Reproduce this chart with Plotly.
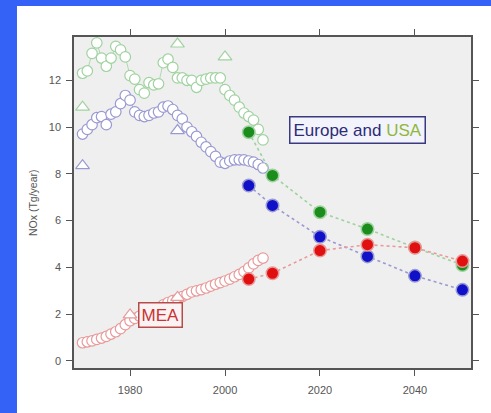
import plotly.graph_objects as go

# ---- historical emissions (open circles), Tg/year ----
years_hist = list(range(1970, 2009))

eu_usa_hist = [12.3, 12.4, 13.15, 13.6, 12.95, 12.6, 12.95, 13.45, 13.3, 13.0,
               12.2, 12.05, 11.6, 11.45, 11.9, 11.8, 11.85, 12.75, 12.9, 12.55,
               12.1, 12.1, 12.0, 12.0, 11.7, 12.0, 12.05, 12.1, 12.1, 12.1,
               11.6, 11.35, 11.15, 10.85, 10.6, 10.45, 10.3, 9.9, 9.45]

europe_hist = [9.7, 9.9, 10.1, 10.4, 10.45, 10.1, 10.55, 10.65, 11.0, 11.35,
               11.15, 10.65, 10.5, 10.45, 10.5, 10.6, 10.65, 10.85, 10.9, 10.75,
               10.5, 10.35, 10.0, 9.8, 9.6, 9.35, 9.15, 8.95, 8.75, 8.5,
               8.45, 8.55, 8.6, 8.6, 8.6, 8.55, 8.5, 8.4, 8.25]

mea_hist = [0.78, 0.82, 0.86, 0.92, 0.98, 1.05, 1.15, 1.25, 1.38, 1.55,
            1.72, 1.82, 1.92, 2.0, 2.08, 2.18, 2.28, 2.4, 2.5, 2.58,
            2.65, 2.75, 2.85, 2.95, 3.0, 3.05, 3.12, 3.2, 3.28, 3.35,
            3.42, 3.5, 3.6, 3.7, 3.82, 3.98, 4.15, 4.3, 4.4]

# ---- other inventories (open triangles) ----
tri_eu_usa_years = [1970, 1990, 2000]
tri_eu_usa_vals = [10.85, 13.55, 13.0]
tri_europe_years = [1970, 1990]
tri_europe_vals = [8.35, 9.85]
tri_mea_years = [1980, 1990]
tri_mea_vals = [1.97, 2.72]

# ---- projections (filled circles) ----
years_proj = [2005, 2010, 2020, 2030, 2040, 2050]
eu_usa_proj = [9.78, 7.93, 6.36, 5.64, 4.85, 4.1]
europe_proj = [7.5, 6.65, 5.31, 4.47, 3.64, 3.04]
mea_proj = [3.5, 3.75, 4.72, 4.97, 4.84, 4.27]

x_ticks = [1980, 2000, 2020, 2040]
y_ticks = [0, 2, 4, 6, 8, 10, 12]

GREEN, GREEN_L = "#1c8c1c", "#9fd29f"
BLUE, BLUE_L = "#1010c8", "#9a9ad2"
RED, RED_L = "#e01010", "#e89a9a"

FONT = "Arial, Liberation Sans"

fig = go.Figure()

def hist_trace(x, y, col):
    return go.Scatter(x=x, y=y, mode="lines+markers",
                      line=dict(color=col, width=0.8),
                      marker=dict(symbol="circle", size=10.5, color="white",
                                  line=dict(color=col, width=1.2)),
                      showlegend=False, hoverinfo="skip")

def tri_trace(x, y, col):
    return go.Scatter(x=x, y=y, mode="markers",
                      marker=dict(symbol="triangle-up", size=12, color="white",
                                  line=dict(color=col, width=1.2)),
                      showlegend=False, hoverinfo="skip")

def proj_trace(x, y, col, col_l):
    return go.Scatter(x=x, y=y, mode="lines+markers",
                      line=dict(color=col_l, width=1.6, dash="dot"),
                      marker=dict(symbol="circle", size=12.5, color=col,
                                  line=dict(color=col_l, width=1.5)),
                      showlegend=False, hoverinfo="skip")

fig.add_trace(hist_trace(years_hist, eu_usa_hist, GREEN_L))
fig.add_trace(hist_trace(years_hist, europe_hist, BLUE_L))
fig.add_trace(hist_trace(years_hist, mea_hist, RED_L))
fig.add_trace(tri_trace(tri_eu_usa_years, tri_eu_usa_vals, GREEN_L))
fig.add_trace(tri_trace(tri_europe_years, tri_europe_vals, BLUE_L))
fig.add_trace(tri_trace(tri_mea_years, tri_mea_vals, RED_L))
fig.add_trace(proj_trace(years_proj, eu_usa_proj, GREEN, GREEN_L))
fig.add_trace(proj_trace(years_proj, europe_proj, BLUE, BLUE_L))
fig.add_trace(proj_trace(years_proj, mea_proj, RED, RED_L))

axis_common = dict(showline=True, linecolor="#555555", linewidth=1.5,
                   mirror="ticks", ticks="outside", ticklen=6, tickwidth=1.2,
                   tickcolor="#555555", showgrid=False, zeroline=False,
                   tickfont=dict(family=FONT, size=11, color="#555555"))

fig.update_xaxes(range=[1968.2, 2051.8], tickvals=x_ticks,
                 ticklabelstandoff=5, **axis_common)
fig.update_yaxes(range=[-0.3, 13.85], tickvals=y_ticks,
                 ticklabelstandoff=3, **axis_common)

# white panel and grey plotting area
fig.add_shape(type="rect", xref="paper", yref="paper",
              x0=-0.1436, x1=1.06, y0=-0.14, y1=1.0937,
              fillcolor="white", line_width=0, layer="below")
fig.add_shape(type="rect", xref="paper", yref="paper",
              x0=0, x1=1, y0=0, y1=1,
              fillcolor="#efefef", line_width=0, layer="below")

fig.add_annotation(xref="paper", yref="paper", x=-0.1234, y=0.4985,
                   text="NOx (Tg/year)", textangle=-90, showarrow=False,
                   font=dict(family=FONT, size=10.5, color="#555555"))

fig.add_annotation(x=2027.8, y=9.87,
                   text="Europe and <span style='color:#8fb83a'>USA</span>",
                   showarrow=False, bgcolor="#f3f3fb", bordercolor="#3a3a80",
                   borderwidth=1.5, borderpad=3,
                   font=dict(family=FONT, size=17, color="#2c2c78"))
fig.add_annotation(x=1986.4, y=1.97, text="MEA", showarrow=False,
                   bgcolor="#fbf3f3", bordercolor="#b84a4a",
                   borderwidth=1.5, borderpad=2,
                   font=dict(family=FONT, size=17, color="#c83434"))

fig.update_layout(width=491, height=413,
                  margin=dict(l=74, r=20, t=37, b=45),
                  paper_bgcolor="#3462f6", plot_bgcolor="rgba(0,0,0,0)")

fig.write_html("out.html")
